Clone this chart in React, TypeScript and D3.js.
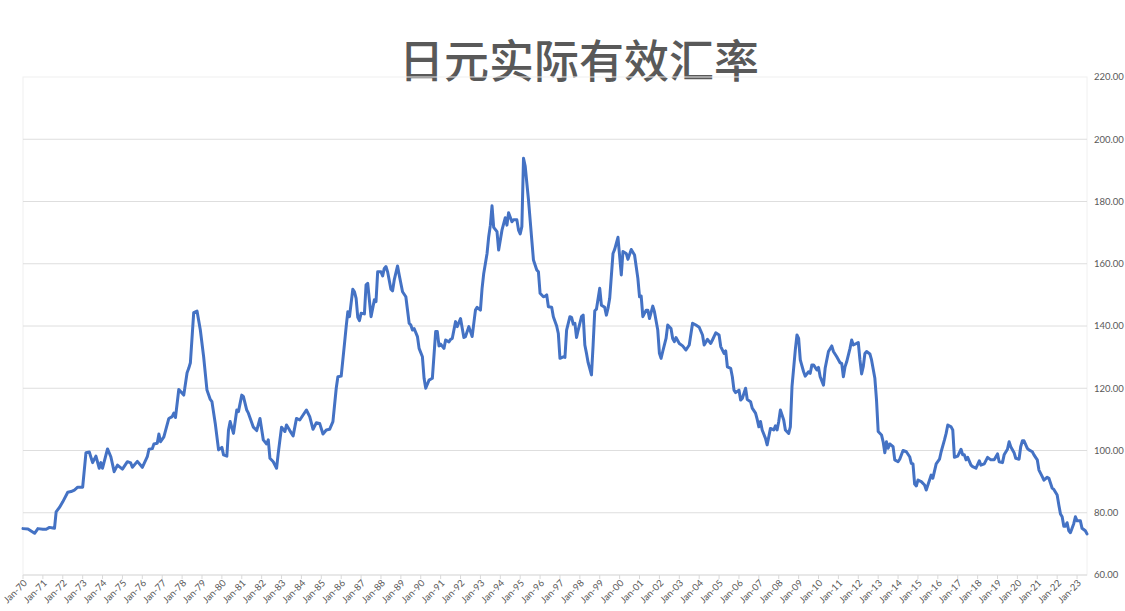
import React from "react";
import * as d3 from "d3";

const chartTitle = "日元实际有效汇率";

// Japan real effective exchange rate, [month, index value]
const reer1970s: [string, number][] = [
  ["1970-01", 74.9], ["1970-04", 74.8], ["1970-08", 73.4], ["1970-10", 74.9],
  ["1971-01", 74.7], ["1971-03", 74.7], ["1971-05", 75.3], ["1971-07", 75.1], ["1971-08", 75.0],
  ["1971-09", 80.3], ["1971-11", 81.7], ["1972-01", 83.5], ["1972-04", 86.6], ["1972-06", 86.8],
  ["1972-08", 87.3], ["1972-10", 88.2], ["1973-01", 88.2], ["1973-03", 99.3], ["1973-05", 99.5],
  ["1973-07", 96.1], ["1973-09", 98.2], ["1973-11", 94.3], ["1973-12", 96.1], ["1974-01", 94.3],
  ["1974-04", 100.5], ["1974-06", 98.0], ["1974-08", 93.2], ["1974-10", 95.3], ["1975-01", 94.0],
  ["1975-04", 96.4], ["1975-06", 96.0], ["1975-07", 94.6], ["1975-10", 96.5], ["1976-01", 94.6],
  ["1976-04", 98.0], ["1976-05", 100.4], ["1976-07", 100.6], ["1976-08", 102.1], ["1976-10", 102.3],
  ["1976-11", 105.3], ["1976-12", 102.8], ["1977-02", 104.4], ["1977-05", 110.3], ["1977-07", 110.9],
  ["1977-08", 112.0], ["1977-09", 110.6], ["1977-11", 119.6], ["1978-02", 117.8], ["1978-04", 125.0],
  ["1978-05", 126.4], ["1978-06", 128.2], ["1978-08", 144.3], ["1978-10", 144.8], ["1978-12", 138.7],
  ["1979-02", 130.1], ["1979-04", 119.4], ["1979-06", 116.4], ["1979-07", 115.7], ["1979-09", 108.7],
  ["1979-11", 100.2],
];

const reer1980s: [string, number][] = [
  ["1980-01", 101.0], ["1980-02", 98.6], ["1980-04", 98.2], ["1980-05", 106.6], ["1980-06", 109.3],
  ["1980-08", 105.5], ["1980-10", 113.0], ["1980-11", 112.5], ["1981-01", 117.8], ["1981-02", 117.3],
  ["1981-04", 113.0], ["1981-05", 112.0], ["1981-08", 107.5], ["1981-10", 106.4], ["1981-12", 110.3],
  ["1982-02", 103.4], ["1982-04", 102.1], ["1982-05", 103.4], ["1982-06", 97.5], ["1982-08", 96.4],
  ["1982-10", 94.3], ["1982-11", 99.1], ["1983-01", 107.5], ["1983-03", 106.1], ["1983-04", 108.2],
  ["1983-06", 106.4], ["1983-08", 104.7], ["1983-10", 110.3], ["1983-12", 109.8], ["1984-02", 111.4],
  ["1984-04", 113.0], ["1984-06", 110.9], ["1984-08", 106.8], ["1984-10", 108.9], ["1984-12", 108.7],
  ["1985-02", 105.3], ["1985-04", 106.6], ["1985-06", 106.8], ["1985-08", 109.3], ["1985-10", 120.0],
  ["1985-11", 123.7], ["1986-01", 123.9], ["1986-03", 134.4], ["1986-04", 139.8], ["1986-05", 144.6],
  ["1986-06", 143.0], ["1986-08", 151.8], ["1986-09", 151.0], ["1986-10", 148.9], ["1986-11", 142.8],
  ["1986-12", 141.7], ["1987-01", 144.1], ["1987-03", 143.9], ["1987-04", 153.2], ["1987-05", 153.7],
  ["1987-07", 143.0], ["1987-09", 148.4], ["1987-10", 147.8], ["1987-11", 157.4], ["1988-01", 157.4],
  ["1988-02", 156.1], ["1988-03", 158.5], ["1988-04", 159.1], ["1988-05", 157.4], ["1988-07", 151.8],
  ["1988-08", 151.3], ["1988-09", 154.8], ["1988-11", 159.3], ["1988-12", 156.4], ["1989-02", 151.0],
  ["1989-04", 149.4], ["1989-06", 140.9], ["1989-07", 140.3], ["1989-08", 138.7], ["1989-09", 139.2],
  ["1989-11", 136.6], ["1989-12", 132.8],
];

const reer1990s: [string, number][] = [
  ["1990-02", 130.1], ["1990-03", 123.2], ["1990-04", 120.0], ["1990-06", 122.6], ["1990-08", 123.2],
  ["1990-10", 138.2], ["1990-11", 138.2], ["1990-12", 133.6], ["1991-01", 134.2], ["1991-03", 132.8],
  ["1991-04", 135.5], ["1991-06", 134.9], ["1991-07", 135.7], ["1991-08", 136.0], ["1991-10", 141.4],
  ["1991-11", 139.8], ["1992-01", 142.4], ["1992-03", 136.3], ["1992-04", 136.6], ["1992-06", 139.8],
  ["1992-08", 136.6], ["1992-10", 145.1], ["1992-11", 146.0], ["1993-01", 145.1], ["1993-02", 152.1],
  ["1993-03", 156.9], ["1993-05", 163.3], ["1993-06", 168.7], ["1993-07", 172.4], ["1993-08", 178.6],
  ["1993-09", 171.7], ["1993-11", 170.3], ["1993-12", 164.4], ["1994-02", 170.8], ["1994-04", 174.8],
  ["1994-05", 172.4], ["1994-06", 176.4], ["1994-08", 173.5], ["1994-09", 174.1], ["1994-11", 174.1],
  ["1994-12", 170.8], ["1995-01", 169.6], ["1995-02", 171.9], ["1995-03", 193.9], ["1995-04", 191.4],
  ["1995-06", 180.5], ["1995-08", 167.6], ["1995-09", 161.2], ["1995-11", 158.0], ["1995-12", 157.4],
  ["1996-01", 150.5], ["1996-03", 149.4], ["1996-04", 149.6], ["1996-05", 150.0], ["1996-06", 146.2],
  ["1996-08", 146.0], ["1996-09", 143.0], ["1996-11", 140.0], ["1996-12", 137.6], ["1997-01", 129.6],
  ["1997-03", 130.1], ["1997-04", 129.9], ["1997-05", 138.7], ["1997-07", 143.0], ["1997-08", 142.8],
  ["1997-09", 140.6], ["1997-10", 140.9], ["1997-11", 136.3], ["1997-12", 138.7], ["1998-02", 143.0],
  ["1998-03", 143.5], ["1998-04", 133.9], ["1998-05", 131.2], ["1998-06", 128.2], ["1998-08", 124.3],
  ["1998-09", 133.9], ["1998-10", 144.9], ["1998-11", 145.4], ["1999-01", 152.1], ["1999-02", 146.7],
  ["1999-04", 146.0], ["1999-05", 143.5], ["1999-06", 145.7], ["1999-07", 148.9], ["1999-09", 163.3],
  ["1999-10", 164.6], ["1999-12", 168.5],
];

const reer2000s: [string, number][] = [
  ["2000-02", 156.4], ["2000-03", 163.9], ["2000-05", 163.3], ["2000-06", 161.4], ["2000-08", 164.6],
  ["2000-10", 162.8], ["2000-12", 155.3], ["2001-01", 149.4], ["2001-02", 149.6], ["2001-03", 143.0],
  ["2001-05", 145.1], ["2001-06", 145.1], ["2001-07", 142.4], ["2001-09", 146.4], ["2001-10", 144.6],
  ["2001-12", 138.7], ["2002-01", 131.2], ["2002-02", 129.6], ["2002-03", 131.8], ["2002-05", 136.0],
  ["2002-06", 140.3], ["2002-08", 139.2], ["2002-09", 136.0], ["2002-10", 135.0], ["2002-11", 136.3],
  ["2003-01", 134.4], ["2003-03", 133.6], ["2003-05", 132.3], ["2003-07", 133.9], ["2003-09", 140.9],
  ["2003-11", 140.3], ["2004-01", 139.6], ["2004-03", 137.1], ["2004-04", 133.9], ["2004-06", 135.7],
  ["2004-08", 134.4], ["2004-09", 135.5], ["2004-11", 137.8], ["2005-01", 137.1], ["2005-02", 133.4],
  ["2005-04", 131.2], ["2005-05", 132.0], ["2005-06", 126.9], ["2005-08", 126.4], ["2005-09", 123.7],
  ["2005-10", 119.4], ["2005-11", 118.6], ["2006-01", 119.4], ["2006-02", 116.2], ["2006-03", 116.7],
  ["2006-05", 120.0], ["2006-06", 116.4], ["2006-08", 115.7], ["2006-09", 113.6], ["2006-11", 112.0],
  ["2006-12", 110.0], ["2007-01", 107.6], ["2007-02", 109.3], ["2007-03", 106.6], ["2007-05", 103.9],
  ["2007-06", 101.8], ["2007-07", 104.4], ["2007-08", 107.1], ["2007-10", 106.6], ["2007-11", 107.9],
  ["2007-12", 106.6], ["2008-01", 109.3], ["2008-02", 113.0], ["2008-04", 109.8], ["2008-05", 106.6],
  ["2008-07", 105.5], ["2008-08", 107.6], ["2008-09", 120.5], ["2008-11", 132.3], ["2008-12", 137.1],
  ["2009-01", 136.0], ["2009-02", 129.1], ["2009-04", 125.3], ["2009-05", 123.9], ["2009-07", 125.3],
  ["2009-08", 124.8], ["2009-09", 127.5], ["2009-10", 127.5], ["2009-12", 125.9],
];

const reer2010s: [string, number][] = [
  ["2010-01", 126.7], ["2010-02", 123.7], ["2010-04", 121.0], ["2010-05", 126.4], ["2010-07", 131.8],
  ["2010-09", 133.6], ["2010-10", 131.8], ["2010-12", 130.1], ["2011-02", 128.2], ["2011-03", 128.0],
  ["2011-04", 123.7], ["2011-05", 126.9], ["2011-06", 128.5], ["2011-08", 132.8], ["2011-09", 135.5],
  ["2011-10", 133.9], ["2011-12", 134.4], ["2012-01", 134.7], ["2012-02", 129.1], ["2012-03", 124.6],
  ["2012-04", 126.9], ["2012-05", 131.2], ["2012-06", 131.8], ["2012-08", 131.0], ["2012-09", 129.1],
  ["2012-11", 123.2], ["2012-12", 116.2], ["2013-01", 106.1], ["2013-03", 105.0], ["2013-04", 102.8],
  ["2013-05", 99.3], ["2013-06", 102.8], ["2013-07", 100.7], ["2013-08", 102.1], ["2013-10", 101.2],
  ["2013-11", 97.0], ["2014-01", 96.4], ["2014-02", 97.2], ["2014-04", 100.0], ["2014-06", 99.6],
  ["2014-08", 98.0], ["2014-09", 95.9], ["2014-10", 95.7], ["2014-11", 89.2], ["2014-12", 88.6],
  ["2015-01", 90.5], ["2015-03", 90.0], ["2015-05", 88.9], ["2015-06", 87.3], ["2015-07", 88.9],
  ["2015-09", 92.1], ["2015-10", 91.1], ["2015-12", 95.7], ["2016-02", 97.2], ["2016-03", 99.6],
  ["2016-05", 103.4], ["2016-06", 105.5], ["2016-07", 108.2], ["2016-09", 107.6], ["2016-10", 106.6],
  ["2016-11", 97.8], ["2017-01", 98.2], ["2017-03", 100.4], ["2017-04", 98.6], ["2017-05", 98.6],
  ["2017-06", 97.0], ["2017-07", 97.8], ["2017-09", 95.3], ["2017-10", 94.8], ["2017-12", 94.3],
  ["2018-02", 96.7], ["2018-03", 95.3], ["2018-05", 95.7], ["2018-07", 97.8], ["2018-09", 97.0],
  ["2018-11", 97.0], ["2019-01", 98.9], ["2019-02", 96.4], ["2019-04", 96.1], ["2019-05", 98.6],
  ["2019-07", 100.4], ["2019-08", 102.8], ["2019-09", 101.2], ["2019-11", 99.3], ["2019-12", 97.5],
];

const reer2020s: [string, number][] = [
  ["2020-02", 97.2], ["2020-03", 101.2], ["2020-04", 103.1], ["2020-05", 103.1], ["2020-07", 100.7],
  ["2020-08", 100.2], ["2020-10", 99.6], ["2020-11", 98.6], ["2021-01", 97.0], ["2021-02", 93.7],
  ["2021-04", 91.6], ["2021-05", 90.5], ["2021-07", 91.4], ["2021-08", 91.1], ["2021-10", 87.9],
  ["2021-11", 87.5], ["2022-01", 85.7], ["2022-02", 82.5], ["2022-03", 79.6], ["2022-04", 78.7],
  ["2022-05", 75.7], ["2022-06", 75.7], ["2022-07", 76.8], ["2022-08", 74.2], ["2022-09", 73.6],
  ["2022-11", 76.5], ["2022-12", 78.7], ["2023-01", 77.4], ["2023-03", 77.4], ["2023-04", 75.0],
  ["2023-06", 74.2], ["2023-07", 73.2],
];

const firstMonth = "1970-01";
const lastMonth = "2023-07";
const yTicks = [60, 80, 100, 120, 140, 160, 180, 200, 220];
const tickYears = d3.range(1970, 2024);
const tickLabels = tickYears.map((y) => "Jan-" + String(y % 100).padStart(2, "0"));

const W = 1125;
const H = 611;
const plot = { left: 23, right: 1087, top: 77, bottom: 575 };

function monthIndex(s: string): number {
  const [y, m] = s.split("-").map(Number);
  return (y - 1970) * 12 + (m - 1);
}

export default function App() {
  const series = [...reer1970s, ...reer1980s, ...reer1990s, ...reer2000s, ...reer2010s, ...reer2020s];
  const x = d3
    .scaleLinear()
    .domain([monthIndex(firstMonth), monthIndex(lastMonth)])
    .range([plot.left, plot.right]);
  const y = d3.scaleLinear().domain([60, 220]).range([plot.bottom, plot.top]);
  const line = d3
    .line<[string, number]>()
    .x((d) => x(monthIndex(d[0])))
    .y((d) => y(d[1]));

  const axisFont = "Lato, 'Open Sans', 'Liberation Sans', sans-serif";

  return (
    <svg
      width={W}
      height={H}
      style={{ position: "absolute", left: 0, top: 0, background: "#fff" }}
    >
      <rect x={0} y={0} width={W} height={H} fill="#fff" />
      <text
        x={579}
        y={78}
        textAnchor="middle"
        fontFamily="'Noto Sans CJK SC', sans-serif"
        fontSize={45}
        fontWeight={500}
        fill="#595959"
      >
        {chartTitle}
      </text>

      {/* faint plot frame */}
      <rect
        x={plot.left}
        y={plot.top}
        width={plot.right - plot.left}
        height={plot.bottom - plot.top}
        fill="none"
        stroke="#f0f0f0"
        strokeWidth={1}
      />

      {/* gridlines */}
      {yTicks.slice(1, -1).map((t) => (
        <line
          key={t}
          x1={plot.left}
          x2={plot.right}
          y1={y(t)}
          y2={y(t)}
          stroke="#dedede"
          strokeWidth={1}
        />
      ))}
      <line
        x1={plot.left}
        x2={plot.right}
        y1={plot.bottom}
        y2={plot.bottom}
        stroke="#d9d9d9"
        strokeWidth={1}
      />

      {/* right axis labels */}
      {yTicks.map((t) => (
        <text
          key={t}
          x={1094}
          y={y(t) + 1}
          dominantBaseline="middle"
          fontFamily={axisFont}
          fontSize={9.5}
          fill="#595959"
        >
          {t.toFixed(2)}
        </text>
      ))}

      {/* x ticks and labels */}
      {tickYears.map((yr, i) => {
        const xp = x(monthIndex(`${yr}-01`));
        return (
          <g key={yr}>
            <line x1={xp} x2={xp} y1={plot.bottom} y2={plot.bottom + 4} stroke="#d9d9d9" />
            <text
              transform={`translate(${xp + 3},${plot.bottom + 7}) rotate(-45)`}
              textAnchor="end"
              dominantBaseline="middle"
              fontFamily={axisFont}
              fontSize={9.5}
              fill="#595959"
            >
              {tickLabels[i]}
            </text>
          </g>
        );
      })}

      <path
        d={line(series) ?? ""}
        fill="none"
        stroke="#4472c4"
        strokeWidth={3}
        strokeLinejoin="round"
        strokeLinecap="round"
      />
    </svg>
  );
}
